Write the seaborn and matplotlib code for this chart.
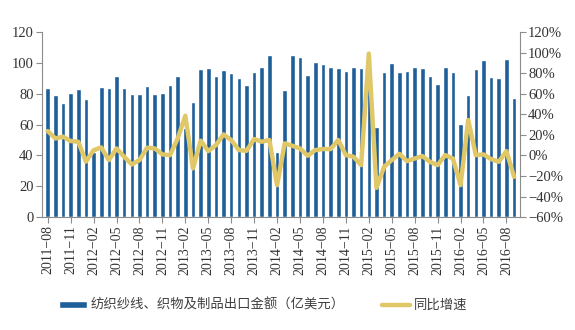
import matplotlib
matplotlib.use("Agg")
import matplotlib.pyplot as plt
import seaborn as sns
import pandas as pd
import numpy as np
from matplotlib.ticker import FuncFormatter

months = pd.period_range("2011-08", "2016-09", freq="M").strftime("%Y-%m").tolist()

export_value = [83.4, 79.1, 74.2, 80.2, 82.8, 76.8, 42.0, 84.5, 83.7, 91.8,
                83.7, 79.6, 80.0, 85.2, 80.0, 80.6, 85.4, 91.4, 58.0, 74.6,
                96.1, 96.6, 91.8, 95.3, 93.3, 90.5, 85.4, 94.2, 97.0, 105.0,
                41.9, 82.6, 105.0, 104.0, 92.0, 100.6, 99.1, 97.2, 96.8, 94.8,
                97.2, 96.8, 83.9, 58.5, 93.8, 100.0, 94.4, 94.8, 97.0, 96.6,
                91.8, 86.2, 97.4, 94.0, 60.6, 78.9, 96.3, 101.7, 91.0, 90.3,
                102.2, 77.0]

yoy_growth = [23.7, 16.5, 18.2, 14.0, 13.3, -6.0, 5.0, 7.8, -4.5, 6.8,
              -1.3, -8.8, -4.5, 7.5, 6.8, 1.0, 0.3, 16.5, 38.6, -12.6,
              14.3, 4.2, 10.0, 20.4, 15.0, 5.2, 4.5, 15.9, 13.3, 15.0,
              -28.9, 11.7, 9.4, 6.8, -0.3, 5.2, 6.2, 6.2, 15.0, 0.3,
              -1.3, -9.4, 99.0, -31.5, -11.0, -4.5, 1.5, -5.5, -3.0, -0.6,
              -6.2, -9.4, 0.3, -3.0, -28.9, 34.4, 0.3, 1.0, -3.6, -6.2,
              4.2, -20.8]

bar_label = "纺织纱线、织物及制品出口金额（亿美元）"
line_label = "同比增速"

df = pd.DataFrame({"month": months, "value": export_value, "yoy": yoy_growth})
df["pos"] = np.arange(len(df))

sns.set_theme(style="white")
plt.rcParams["font.family"] = ["Liberation Serif", "Noto Sans CJK SC", "DejaVu Sans"]

fig = plt.figure(figsize=(5.75, 3.3), dpi=100)
ax = fig.add_axes([0.073, 0.342, 0.831, 0.561])

BAR_COLOR = "#1f5f99"
LINE_COLOR = "#e0c768"
SPINE_COLOR = "#8c8c8c"

sns.barplot(data=df, x="pos", y="value", color=BAR_COLOR, width=0.6,
            saturation=1, ax=ax, label=bar_label, native_scale=False)

ax2 = ax.twinx()
sns.lineplot(data=df, x="pos", y="yoy", color=LINE_COLOR, linewidth=3.2,
             ax=ax2, label=line_label, legend=False)

ax.set_xlim(-0.75, len(df) - 0.25)
ax.set_ylim(0, 120)
ax.set_yticks(range(0, 121, 20))
ax2.set_ylim(-60, 120)
ax2.set_yticks(range(-60, 121, 20))
ax2.yaxis.set_major_formatter(FuncFormatter(lambda v, p: f"{int(v)}%".replace("-", "−")))

tick_idx = list(range(0, len(df), 3))
ax.set_xticks(tick_idx)
ax.set_xticklabels([months[i].replace("-", "−") for i in tick_idx], rotation=90)
ax.set_xlabel("")
ax.set_ylabel("")
ax2.set_ylabel("")

for a in (ax, ax2):
    a.grid(False)
    a.spines["top"].set_visible(False)
    for s in ("left", "right", "bottom"):
        a.spines[s].set_color(SPINE_COLOR)
        a.spines[s].set_linewidth(0.8)

ax.tick_params(axis="x", length=4, width=0.8, color=SPINE_COLOR, labelsize=10,
               labelcolor="#333333", pad=2, bottom=True)
ax.tick_params(axis="y", length=4, width=0.8, color=SPINE_COLOR, labelsize=10.5,
               labelcolor="#333333", pad=2, left=True)
ax2.tick_params(axis="y", length=4, width=0.8, color=SPINE_COLOR, labelsize=10.5,
                labelcolor="#333333", pad=2, right=True)
ax2.spines["left"].set_visible(False)
ax2.spines["bottom"].set_visible(False)
ax.spines["right"].set_visible(False)

h1, l1 = ax.get_legend_handles_labels()
h2, l2 = ax2.get_legend_handles_labels()
if ax.get_legend():
    ax.get_legend().remove()
leg = fig.legend(h1 + h2, l1 + l2, loc="center", bbox_to_anchor=(0.458, 0.076),
                 ncol=2, frameon=False, columnspacing=2.8, handlelength=2.1,
                 handleheight=0.45, handletextpad=0.3,
                 prop={"family": ["Noto Sans CJK SC"], "size": 9.6})
for t in leg.get_texts():
    t.set_color("#404040")

fig.savefig("out.png", dpi=100)
